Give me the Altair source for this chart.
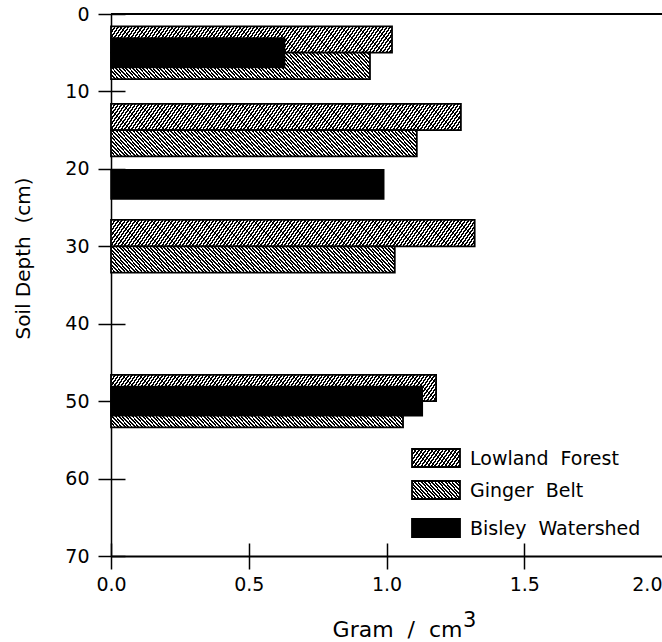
import math
import altair as alt
import pandas as pd

# ---------------- data ----------------
depth_groups = [5, 15, 30, 50]            # soil depth (cm) of paired bars
lowland = [1.02, 1.27, 1.32, 1.18]         # Lowland Forest, g/cm3
ginger = [0.94, 1.11, 1.03, 1.06]          # Ginger Belt, g/cm3
bisley_depth = [5, 22, 50]                 # soil depth (cm) of Bisley bars
bisley = [0.63, 0.99, 1.13]                # Bisley Watershed, g/cm3
series = ["Lowland\u00a0 Forest", "Ginger\u00a0 Belt", "Bisley\u00a0 Watershed"]
x_ticks = [0.0, 0.5, 1.0, 1.5, 2.0]
y_ticks = [0, 10, 20, 30, 40, 50, 60, 70]

# ---------------- layout / style ----------------
FONT = "DejaVu Sans"
W, H = 551, 542
X_MAX, Y_MAX = 2.0, 70
PX_X = W / X_MAX
PX_Y = H / Y_MAX
HALF = 3.4      # thickness of a hatched bar (depth units)
B_HALF = 1.9    # half thickness of a black bar (depth units)


def hatch(w, h, a, back, period=3.4, ink=0.55):
    """Striped linear gradient imitating hatching on a w x h px box."""
    span = w + a * h
    k = span / (w * w + (a * h) ** 2)
    if back:
        x1, y1, x2, y2 = 0, 1, k * w, 1 - k * a * h
    else:
        x1, y1, x2, y2 = 0, 0, k * w, k * a * h
    n = int(math.ceil(span / period))
    stops = []
    for i in range(n):
        s0 = min(i * period / span, 1)
        s1 = min((i + ink) * period / span, 1)
        s2 = min((i + 1) * period / span, 1)
        stops += [
            {"offset": round(s0, 5), "color": "#000000"},
            {"offset": round(s1, 5), "color": "#000000"},
            {"offset": round(s1, 5), "color": "#ffffff"},
            {"offset": round(s2, 5), "color": "#ffffff"},
        ]
    return {"gradient": "linear", "x1": x1, "y1": y1, "x2": x2, "y2": y2, "stops": stops}


is_two = "datum.value === 2"
xscale = alt.Scale(domain=[0, X_MAX], nice=False, zero=False)
yscale = alt.Scale(domain=[0, Y_MAX], nice=False, zero=False, reverse=True)

xaxis = alt.Axis(
    values=x_ticks, format=".1f", title="Gram\u00a0 /\u00a0 cm", orient="bottom",
    domainColor="black", domainWidth=2, tickColor="black", tickWidth=1.5, tickSize=13,
    tickOpacity={"condition": {"test": is_two, "value": 0}, "value": 1},
    grid=True, gridColor="black", gridWidth=1.5, gridDash=[13, 3000],
    gridOpacity={"condition": {"test": is_two, "value": 0}, "value": 1},
    labelFont=FONT, labelFontSize=19, labelColor="black", labelPadding=6,
    labelFlush=False,
    labelAlign={"condition": {"test": is_two, "value": "right"}, "value": "center"},
    titleFont=FONT, titleFontSize=22, titleFontWeight="normal", titleColor="black",
    titleX=351, titleY=80, titleAlign="right", titleBaseline="alphabetic",
)
yaxis = alt.Axis(
    values=y_ticks, title="Soil Depth\u00a0 (cm)", orient="left",
    domainColor="black", domainWidth=1.5, tickColor="black", tickWidth=1.5, tickSize=13,
    grid=True, gridColor="black", gridWidth=1.5, gridDash=[14, 3000],
    labelFont=FONT, labelFontSize=19, labelColor="black", labelPadding=9,
    titleFont=FONT, titleFontSize=20, titleFontWeight="normal", titleColor="black",
    titleX=-88, titleY=244, titleAlign="center", titleBaseline="middle", titleAngle=-90,
)


def bar_layer(value, top, bottom, fill):
    df = pd.DataFrame({"value": [value], "top": [top], "bottom": [bottom]})
    return alt.Chart(df).mark_rect(fill=fill, stroke="black", strokeWidth=1.8).encode(
        x=alt.X("value:Q", scale=xscale, axis=xaxis),
        x2=alt.datum(0),
        y=alt.Y("top:Q", scale=yscale, axis=yaxis),
        y2="bottom:Q",
    )


layers = []
# top frame line at depth 0
layers.append(
    alt.Chart(pd.DataFrame({"d": [0]})).mark_rule(color="black", strokeWidth=2).encode(
        y=alt.Y("d:Q", scale=yscale, axis=yaxis)
    )
)
for d, v in zip(depth_groups, lowland):
    layers.append(bar_layer(v, d - HALF, d, hatch(v * PX_X, HALF * PX_Y, 0.7, False)))
for d, v in zip(depth_groups, ginger):
    layers.append(bar_layer(v, d, d + HALF, hatch(v * PX_X, HALF * PX_Y, 0.9, True)))
bis_df = pd.DataFrame({"value": bisley, "top": [d - B_HALF for d in bisley_depth],
                       "bottom": [d + B_HALF for d in bisley_depth]})
layers.append(
    alt.Chart(bis_df).mark_rect(fill="black", stroke="black", strokeWidth=1.5).encode(
        x=alt.X("value:Q", scale=xscale, axis=xaxis),
        x2=alt.datum(0),
        y=alt.Y("top:Q", scale=yscale, axis=yaxis),
        y2="bottom:Q",
    )
)

# legend (pixel layout inside plot area)
LEG_X0, LEG_X1, LEG_TX = 301, 349, 359
leg_rows = [(435, 453), (467, 485), (505, 523)]
leg_fills = [hatch(48, 18, 0.7, False), hatch(48, 18, 0.9, True), "black"]
for (t, b), fill, lab in zip(leg_rows, leg_fills, series):
    ldf = pd.DataFrame({"label": [lab]})
    layers.append(
        alt.Chart(ldf).mark_rect(fill=fill, stroke="black", strokeWidth=1.8).encode(
            x=alt.value(LEG_X0), x2=alt.value(LEG_X1), y=alt.value(t), y2=alt.value(b)
        )
    )
    layers.append(
        alt.Chart(ldf).mark_text(align="left", baseline="middle", font=FONT, fontSize=19,
                                 color="black").encode(
            text="label:N", x=alt.value(LEG_TX), y=alt.value((t + b) / 2 + 1)
        )
    )

# superscript of the x-axis title unit
layers.append(
    alt.Chart(pd.DataFrame({"s": ["3"]})).mark_text(
        align="left", baseline="alphabetic", font=FONT, fontSize=21, color="black"
    ).encode(text="s:N", x=alt.value(352), y=alt.value(613))
)

chart = alt.layer(*layers).properties(
    width=W, height=H,
    autosize=alt.AutoSizeParams(type="none"),
    padding={"left": 111, "top": 14, "right": 0, "bottom": 86},
    background="white",
).configure_view(stroke=None)

chart.save("out.html", embed_options={"renderer": "svg", "actions": False})
